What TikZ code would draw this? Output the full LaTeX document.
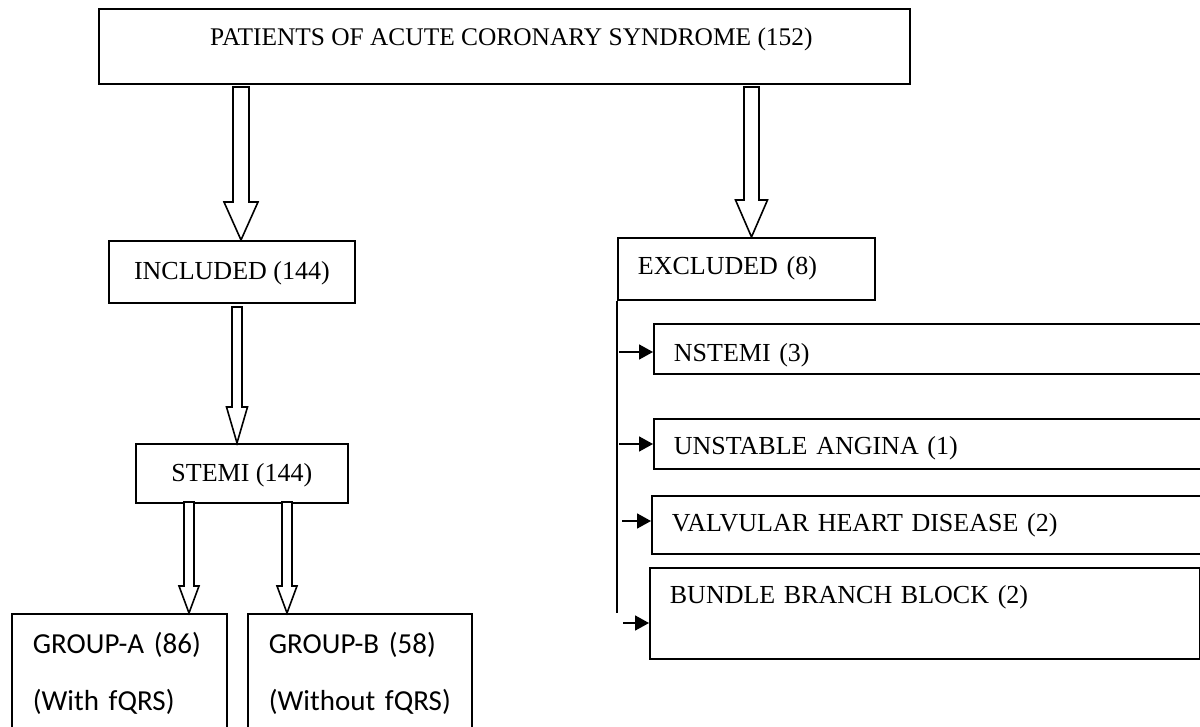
\documentclass[tikz,border=0pt]{standalone}
\usepackage{fontspec}
\setmainfont{Liberation Serif}
\newfontfamily\grpfont{Carlito}
\usetikzlibrary{arrows.meta,calc}

% block arrow: start, end, half shaft, half head, head length
\newcommand\hollowarrow[5]{%
  \draw[hollow] let \p1=#1, \p2=#2 in
    (\x1-#3,\y1) -- (\x1-#3,\y2+#5) -- (\x1-#4,\y2+#5) -- (\x1,\y2)
    -- (\x1+#4,\y2+#5) -- (\x1+#3,\y2+#5) -- (\x1+#3,\y1) -- cycle;}

\begin{document}
\begin{tikzpicture}[
    x=0.5pt, y=-0.5pt,
    box/.style={
      draw,
      line width=0.9pt,
      anchor=north west,
      inner xsep=0pt,
      inner ysep=0pt,
      align=left,
      font=\fontsize{13}{15.6}\selectfont
    },
    grp/.style={
      box,
      inner xsep=10.5pt,
      text width=#1,
      text height=19.7pt,
      text depth=45.3pt,
      font=\grpfont\fontsize{14.5}{28.5}\selectfont
    },
    hollow/.style={draw, line width=0.8pt, fill=white, line join=miter},
    arrow/.style={line width=0.9pt, -{Triangle[length=7pt, width=7.5pt]}}
  ]
    \useasboundingbox (0,0) rectangle (1200,727);

    \node[box, minimum width=405.5pt, text height=18.2pt, text depth=19.3pt, align=center, font=\fontsize{12.7}{15}\selectfont] (top) at (98,8) {\hspace*{7pt}PATIENTS OF ACUTE CORONARY SYNDROME (152)};
    \node[box, minimum width=123pt, text height=19.3pt, text depth=11.7pt, align=center] (incl) at (108,240) {INCLUDED (144)};
    \node[box, inner xsep=10pt, text width=108.5pt, text height=18.3pt, text depth=12.7pt] (excl) at (617,237) {EXCLUDED (8)};
    \node[box, minimum width=106pt, text height=18.8pt, text depth=10.7pt, align=center] (stemi) at (135,443) {STEMI (144)};

    % excluded cases
    \node[box, inner xsep=10pt, text width=278.5pt, text height=18.8pt, text depth=6.2pt] (nstemi) at (653,323) {NSTEMI (3)};
    \node[box, inner xsep=10pt, text width=278.5pt, text height=17.8pt, text depth=7.2pt] (unst) at (653,418) {UNSTABLE ANGINA (1)};
    \node[box, inner xsep=10pt, text width=279.5pt, text height=17.8pt, text depth=11.2pt] (valv) at (651,495) {VALVULAR HEART DISEASE (2)};
    \node[box, inner xsep=10pt, text width=255pt, text height=17.8pt, text depth=27.7pt] (bbb) at (649,567) {BUNDLE BRANCH BLOCK (2)};

    % study groups
    \node[grp=86.5pt] (grpa) at (11,613) {GROUP-A (86)\\(With fQRS)};
    \node[grp=91pt] (grpb) at (247,613) {GROUP-B (58)\\(Without fQRS)};

    \coordinate (l1s) at (241,87);
    \coordinate (r1s) at (751.5,87);
    \coordinate (l2s) at (237,307);
    \coordinate (l3s) at (189,502);
    \coordinate (l4s) at (287,502);
    \hollowarrow{(l1s)}{(l1s |- incl.north)}{4pt}{8.5pt}{19pt}
    \hollowarrow{(r1s)}{(r1s |- excl.north)}{3.75pt}{8pt}{18.5pt}
    \hollowarrow{(l2s)}{(l2s |- stemi.north)}{2.5pt}{5.25pt}{18pt}
    \hollowarrow{(l3s)}{(l3s |- grpa.north)}{2.5pt}{5pt}{13.5pt}
    \hollowarrow{(l4s)}{(l4s |- grpb.north)}{2.5pt}{5pt}{13.5pt}

    \coordinate (trunk) at (618,613);
    \coordinate (a1) at (619,352);
    \coordinate (a2) at (619,444);
    \coordinate (a3) at (622,521);
    \coordinate (a4) at (623,623);
    \draw[line width=0.9pt] (excl.south west) -- (excl.south west |- trunk);
    \draw[arrow] (a1) -- (a1 -| nstemi.west);
    \draw[arrow] (a2) -- (a2 -| unst.west);
    \draw[arrow] (a3) -- (a3 -| valv.west);
    \draw[arrow] (a4) -- (a4 -| bbb.west);
  \end{tikzpicture}
\end{document}
